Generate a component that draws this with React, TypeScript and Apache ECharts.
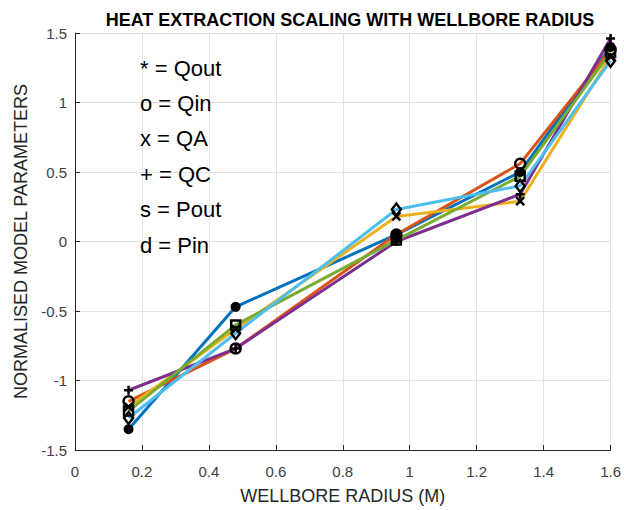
import React, { useEffect, useRef } from "react";
import * as echarts from "echarts";

// Wellbore radii (m) at which the model was evaluated
const radii = [0.16, 0.48, 0.96, 1.33, 1.6];

// Normalised model parameters, one array per quantity
const qOut = [-1.35, -0.47, 0.05, 0.5, 1.4];
const qIn = [-1.15, -0.77, 0.05, 0.56, 1.38];
const qA = [-1.19, -0.63, 0.18, 0.29, 1.33];
const qC = [-1.07, -0.77, 0.0, 0.34, 1.46];
const pOut = [-1.22, -0.6, 0.01, 0.47, 1.36];
const pIn = [-1.27, -0.66, 0.23, 0.4, 1.3];

const seriesNames = ["Qout", "Qin", "QA", "QC", "Pout", "Pin"];
const seriesValues = [qOut, qIn, qA, qC, pOut, pIn];
const seriesColors = ["#0072BD", "#D95319", "#EDB120", "#7E2F8E", "#77AC30", "#4DBEEE"];

// Key shown inside the axes
const keyLines = ["* = Qout", "o = Qin", "x = QA", "+ = QC", "s = Pout", "d = Pin"];

const titleText = "HEAT EXTRACTION SCALING WITH WELLBORE RADIUS";
const xName = "WELLBORE RADIUS (M)";
const yName = "NORMALISED MODEL PARAMETERS";

const FONT = "'Liberation Sans', Arial, Helvetica, sans-serif";

const plusPath = "path://M5,0 L5,10 M0,5 L10,5";
const crossPath = "path://M0,0 L10,10 M10,0 L0,10";
const ringPath = "path://M0,5 A5,5 0 1,1 10,5 A5,5 0 1,1 0,5 Z";
const squarePath = "path://M0,0 L10,0 L10,10 L0,10 Z";
const diamondPath = "path://M5,0 L10,5 L5,10 L0,5 Z";

type MarkerStyle = { symbol: string; size: number | number[]; fill: string; border: number };
const markers: MarkerStyle[] = [
  { symbol: "circle", size: 10, fill: "#000", border: 0 },
  { symbol: ringPath, size: 10, fill: "none", border: 2.5 },
  { symbol: crossPath, size: 8, fill: "none", border: 2.5 },
  { symbol: plusPath, size: 9, fill: "none", border: 2.5 },
  { symbol: squarePath, size: 9, fill: "none", border: 2.5 },
  { symbol: diamondPath, size: [9, 12], fill: "none", border: 2.5 },
];

export default function App() {
  const ref = useRef<HTMLDivElement>(null);

  useEffect(() => {
    if (!ref.current) return;
    const chart = echarts.init(ref.current, undefined, { renderer: "svg" });

    const lineSeries: any[] = seriesValues.map((vals, i) => ({
      name: seriesNames[i],
      type: "line",
      data: radii.map((r, j) => [r, vals[j]]),
      lineStyle: { color: seriesColors[i], width: 3 },
      showSymbol: false,
      z: 2 + i,
    }));

    const markerSeries: any[] = seriesValues.map((vals, i) => ({
      name: seriesNames[i] + " markers",
      type: "scatter",
      data: radii.map((r, j) => [r, vals[j]]),
      symbol: markers[i].symbol,
      symbolSize: markers[i].size,
      itemStyle: {
        color: markers[i].fill === "none" ? "transparent" : markers[i].fill,
        borderColor: "#000",
        borderWidth: markers[i].border,
        opacity: 1,
      },
      z: 10 + i,
    }));

    const axisLabel = {
      fontFamily: FONT,
      fontSize: 15,
      color: "#404040",
      formatter: (v: number) => String(Math.round(v * 10) / 10),
    };

    chart.setOption({
      animation: false,
      backgroundColor: "#fff",
      title: {
        text: titleText,
        left: 345,
        top: 6,
        textAlign: "center",
        textStyle: { fontFamily: FONT, fontSize: 18, fontWeight: "bold", color: "#000" },
      },
      grid: { left: 75, right: 10, top: 33, bottom: 55, containLabel: false },
      xAxis: {
        type: "value",
        min: 0,
        max: 1.6,
        interval: 0.2,
        name: xName,
        nameLocation: "middle",
        nameGap: 37,
        nameTextStyle: { fontFamily: FONT, fontSize: 18, color: "#262626" },
        axisLine: { show: true, onZero: false, lineStyle: { color: "#262626", width: 1 } },
        axisTick: { show: true, inside: true, length: 5, lineStyle: { color: "#262626" } },
        axisLabel: { ...axisLabel, margin: 14 },
        splitLine: { show: true, lineStyle: { color: "#e3e3e3", width: 1 } },
      },
      yAxis: {
        type: "value",
        min: -1.5,
        max: 1.5,
        interval: 0.5,
        name: yName,
        nameLocation: "middle",
        nameGap: 44,
        nameTextStyle: { fontFamily: FONT, fontSize: 18, color: "#262626" },
        axisLine: { show: true, onZero: false, lineStyle: { color: "#262626", width: 1 } },
        axisTick: { show: true, inside: true, length: 5, lineStyle: { color: "#262626" } },
        axisLabel: { ...axisLabel, margin: 8 },
        splitLine: { show: true, lineStyle: { color: "#e3e3e3", width: 1 } },
      },
      graphic: keyLines.map((t, i) => ({
        type: "text",
        x: 140,
        y: 68 + i * 35.4,
        z: 20,
        style: {
          text: t,
          fontFamily: FONT,
          fontSize: 22,
          fill: "#000",
          verticalAlign: "middle",
        },
      })),
      series: [...lineSeries, ...markerSeries],
    });

    return () => chart.dispose();
  }, []);

  return (
    <div
      ref={ref}
      style={{ position: "fixed", left: 0, top: 0, width: 624, height: 510 }}
    />
  );
}
